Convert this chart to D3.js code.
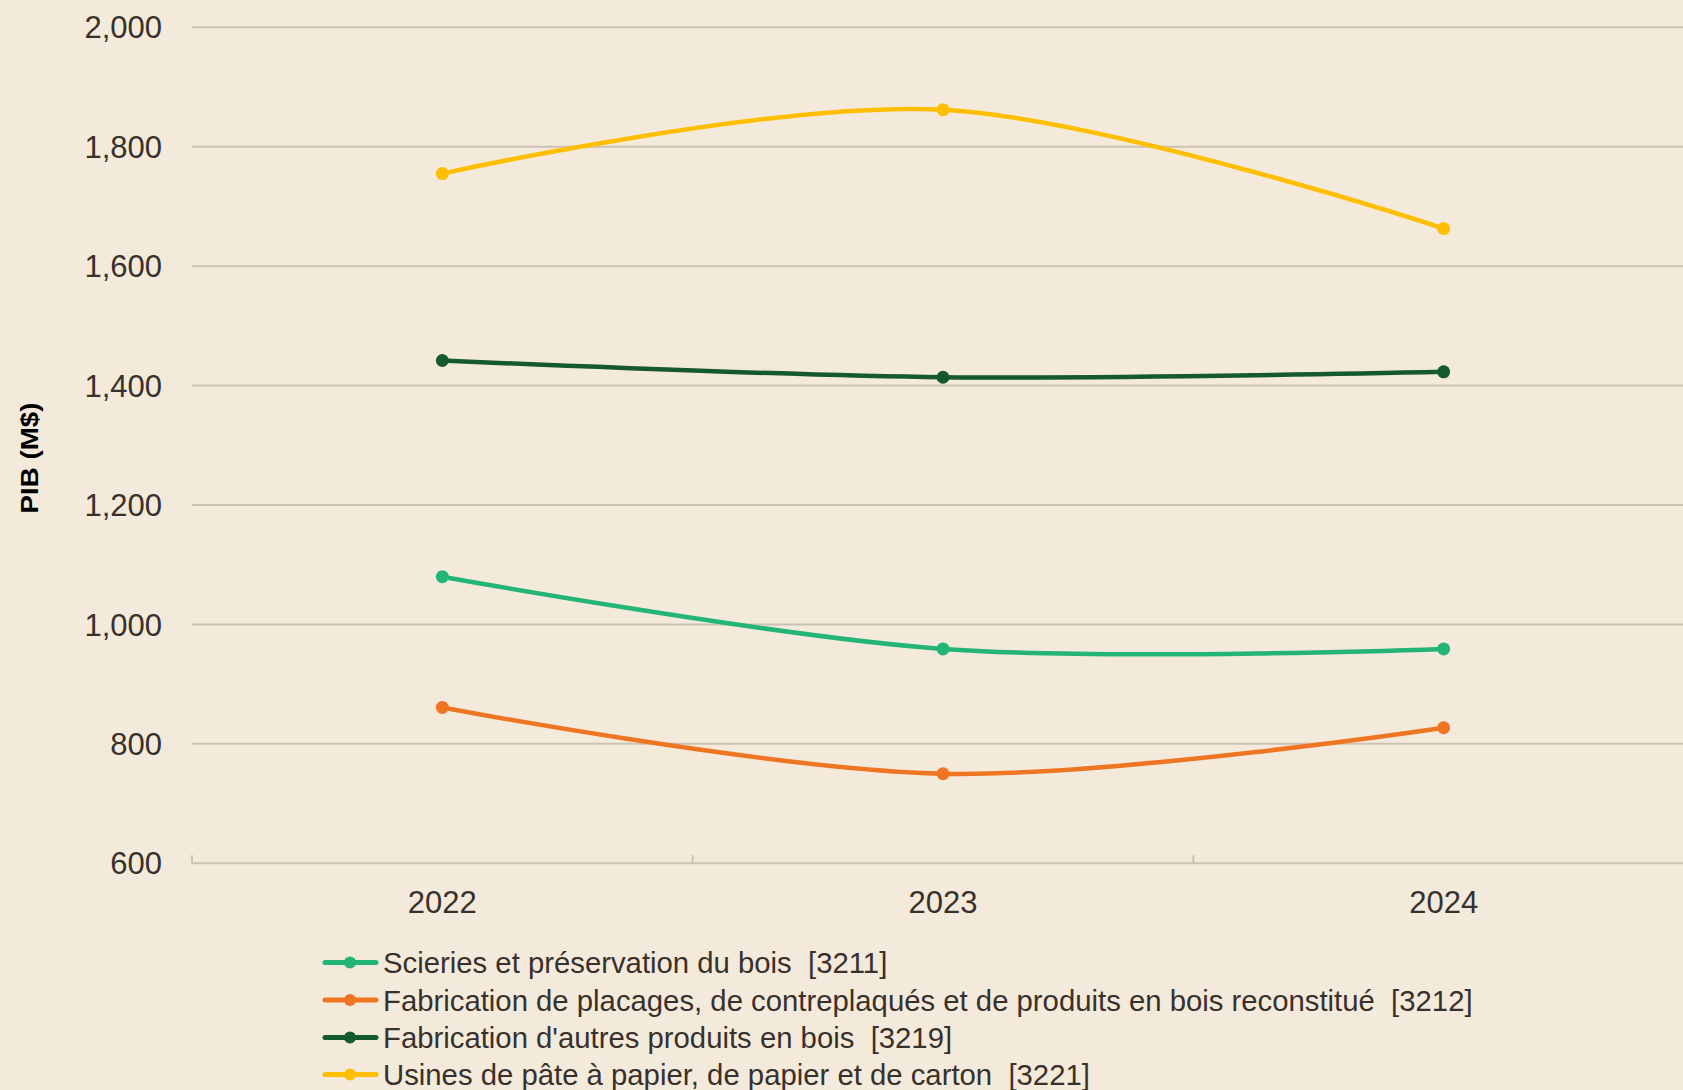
<!DOCTYPE html>
<html>
<head>
<meta charset="utf-8">
<script src="https://cdn.jsdelivr.net/npm/d3@7"></script>
<style>
  html, body { margin: 0; padding: 0; background: #F4EADC; }
  svg { display: block; }
  text { font-family: "Liberation Sans", Arial, sans-serif; fill: #38312B; }
</style>
</head>
<body>
<script>
const years = ["2022", "2023", "2024"];
const seriesNames = [
  "Scieries et préservation du bois  [3211]",
  "Fabrication de placages, de contreplaqués et de produits en bois reconstitué  [3212]",
  "Fabrication d'autres produits en bois  [3219]",
  "Usines de pâte à papier, de papier et de carton  [3221]"
];
const scieries = [1080, 959, 959];
const placages = [861, 750, 827];
const autres = [1442, 1414, 1423];
const papier = [1755, 1862, 1663];
const yTicks = [600, 800, 1000, 1200, 1400, 1600, 1800, 2000];
const colors = ["#22B573", "#EE7623", "#145A2E", "#FFBF00"];

const W = 1683, H = 1090;
const svg = d3.select("body").append("svg").attr("width", W).attr("height", H);
svg.append("rect").attr("width", W).attr("height", H).attr("fill", "#F4EADC");

const x = d3.scaleBand().domain(years).range([192, 1694]);
const y = d3.scaleLinear().domain([600, 2000]).range([863.3, 27.3]);

const series = [scieries, placages, autres, papier];

// gridlines
svg.append("g").selectAll("line").data(yTicks).join("line")
  .attr("x1", 192).attr("x2", W)
  .attr("y1", d => y(d)).attr("y2", d => y(d))
  .attr("stroke", "#CBC2B4").attr("stroke-width", 2);

// bottom axis ticks (inside, upward) at band boundaries
const bounds = [x.range()[0]].concat(years.slice(1).map(d => x(d)));
svg.append("g").selectAll("line").data(bounds).join("line")
  .attr("x1", d => d).attr("x2", d => d)
  .attr("y1", y(600) - 8).attr("y2", y(600))
  .attr("stroke", "#CBC2B4").attr("stroke-width", 2);

// y labels
svg.append("g").selectAll("text").data(yTicks).join("text")
  .attr("x", 162).attr("y", d => y(d))
  .attr("dy", "0.36em")
  .attr("text-anchor", "end")
  .style("font-size", "31px")
  .text(d => d3.format(",")(d));

// x labels
svg.append("g").selectAll("text").data(years).join("text")
  .attr("x", d => x(d) + x.bandwidth() / 2).attr("y", 913)
  .attr("text-anchor", "middle")
  .style("font-size", "31px")
  .text(d => d);

// y title
svg.append("text")
  .attr("transform", "translate(38,458) rotate(-90)")
  .attr("text-anchor", "middle")
  .attr("textLength", 111).attr("lengthAdjust", "spacingAndGlyphs")
  .style("font-size", "24px").style("font-weight", "bold").style("fill", "#000")
  .text("PIB (M$)");

// lines
const line = d3.line()
  .x((d, i) => x(years[i]) + x.bandwidth() / 2)
  .y(d => y(d))
  .curve(d3.curveCardinal.tension(0));

series.forEach((vals, si) => {
  const g = svg.append("g");
  g.append("path").attr("d", line(vals))
    .attr("fill", "none").attr("stroke", colors[si]).attr("stroke-width", 4.5)
    .attr("stroke-linecap", "round");
  g.selectAll("circle").data(vals).join("circle")
    .attr("cx", (d, i) => x(years[i]) + x.bandwidth() / 2)
    .attr("cy", d => y(d))
    .attr("r", 6.5).attr("fill", colors[si]);
});

// legend
const legY = [962.5, 1000, 1037.5, 1074.5];
const leg = svg.append("g");
seriesNames.forEach((name, i) => {
  const gy = legY[i];
  leg.append("line").attr("x1", 325).attr("x2", 376).attr("y1", gy).attr("y2", gy)
    .attr("stroke", colors[i]).attr("stroke-width", 5).attr("stroke-linecap", "round");
  leg.append("circle").attr("cx", 350).attr("cy", gy).attr("r", 6).attr("fill", colors[i]);
  leg.append("text").attr("x", 383).attr("y", gy).attr("dy", "0.36em")
    .attr("xml:space", "preserve")
    .style("white-space", "pre")
    .style("font-size", "29.3px").text(name);
});
</script>
</body>
</html>
